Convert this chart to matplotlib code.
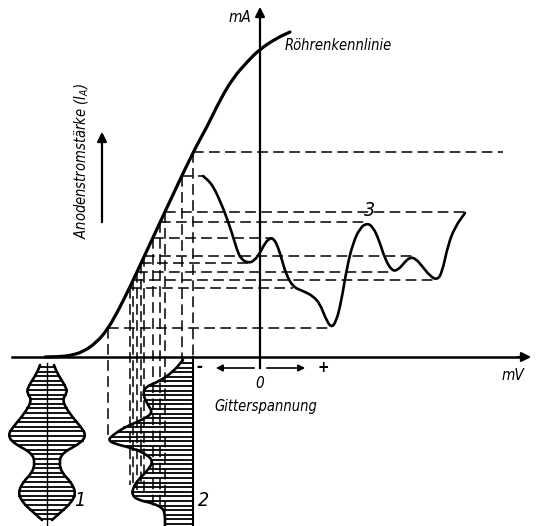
import matplotlib.pyplot as plt
import numpy as np
from matplotlib.path import Path
from matplotlib.patches import PathPatch

# tube characteristic (grid voltage u, anode current v), origin at the axes crossing
curve_u = [-215, -198, -190, -177, -163, -153, -143, -130, -117, -97, -67, -53, -40, -27, -13, 0, 17, 30]
curve_v = [0, 0.5, 1.5, 5, 15, 27, 44, 70, 98, 141, 205, 230, 257, 279, 295, 308, 319, 325]

# output current wave (3)
out_u = [-57, -50, -45, -40, -35, -28, -23, -19, -12, -6, 0, 5, 10, 14, 18, 22, 26, 33, 43, 53, 60,
         65, 71, 76, 81, 87, 93, 100, 107, 113, 119, 125, 132, 138, 144, 150, 156, 162, 170, 177,
         182, 188, 195, 205]
out_v = [181, 175, 167, 156, 144, 124, 107, 98, 94, 96, 104, 114, 119, 118, 110, 97, 83, 70, 66, 61, 53,
         40, 29, 35, 54, 90, 114, 129, 134, 130, 117, 98, 86, 87, 94, 100, 98, 91, 81, 77,
         84, 112, 130, 144]

# projection levels, where each dashed line ends on the right and how far it drops
levels = [205, 181, 145, 135, 119, 101, 94, 85, 77, 69, 29]
level_end = [243, -57, 205, 107, 13, 152, -12, 132, 177, 33, 70]
level_drop = [0, -5, -160, -150, -150, -140, -128, -133, -136, -128, -83]

# input grid voltage (2), left envelope, right edge
in2_v = [-3, -15, -25, -30, -38, -48, -56, -63, -70, -78, -83, -87, -91, -98, -105, -113,
         -123, -131, -138, -143, -146, -151, -158, -169]
in2_u = [-77, -87, -102, -115, -117, -112, -107, -118, -135, -147, -152, -145, -128, -112, -107, -112,
         -122, -127, -128, -122, -108, -97, -95, -95]
in2_edge = -67

# modulated signal (1), half width of envelope
in1_center = -213
in1_v = [-8, -16, -30, -36, -43, -56, -70, -78, -86, -96, -106, -116, -125, -136, -146, -155, -163]
in1_hw = [7, 10, 19, 20, 15, 22, 34, 39, 34, 15, 12, 15, 24, 29, 24, 14, 5]

plt.rcParams['font.family'] = ['DejaVu Sans']
plt.rcParams['font.stretch'] = 'condensed'
plt.rcParams['mathtext.fontset'] = 'dejavusans'


def smooth_line(ax, xs, ys, lw):
    """Draw a polyline as a smooth quadratic Bezier path through the midpoints."""
    pts = np.column_stack([xs, ys]).astype(float)
    verts = [pts[0], (pts[0] + pts[1]) / 2]
    codes = [Path.MOVETO, Path.LINETO]
    for i in range(1, len(pts) - 1):
        verts += [pts[i], (pts[i] + pts[i + 1]) / 2]
        codes += [Path.CURVE3, Path.CURVE3]
    verts.append(pts[-1])
    codes.append(Path.LINETO)
    ax.add_patch(PathPatch(Path(verts, codes), fill=False, lw=lw, color='black',
                           capstyle='round', joinstyle='round'))


fig = plt.figure(figsize=(5.37, 5.26), dpi=100)
ax = fig.add_axes([0, 0, 1, 1])
ax.set_xlim(-260, 277)
ax.set_ylim(-169, 357)
ax.axis('off')

dash = dict(color='black', lw=1.1, dashes=(7, 3.5))

# axes with arrows
ax.plot([-248, 265], [0, 0], color='black', lw=1.8)
ax.annotate('', xy=(274, 0), xytext=(255, 0),
            arrowprops=dict(arrowstyle='-|>', color='black', lw=1.6, mutation_scale=14))
ax.plot([0, 0], [-11, 340], color='black', lw=1.6)
ax.annotate('', xy=(0, 353), xytext=(0, 335),
            arrowprops=dict(arrowstyle='-|>', color='black', lw=1.6, mutation_scale=14))

# characteristic
smooth_line(ax, curve_u, curve_v, 2.3)

# projections
cu = np.array(curve_u)
cv = np.array(curve_v)
for lev, end, drop in zip(levels, level_end, level_drop):
    xc = np.interp(lev, cv, cu)
    ax.plot([xc, end], [lev, lev], **dash)
    ax.plot([xc, xc], [lev, drop], **dash)

# output wave
smooth_line(ax, out_u, out_v, 1.9)

# input wave 2
env_u = np.array(in2_u)
env_v = np.array(in2_v)
for v in np.arange(-6, -169, -4.6):
    u = np.interp(v, env_v[::-1], env_u[::-1])
    ax.plot([u, in2_edge], [v, v], color='black', lw=1.3)
smooth_line(ax, in2_u, in2_v, 1.9)
ax.plot([in2_edge, in2_edge], [0, -169], color='black', lw=1.5)

# input wave 1
c = in1_center
hw = np.array(in1_hw)
v1 = np.array(in1_v)
for v in np.arange(-10, -163, -4.6):
    h = np.interp(v, v1[::-1], hw[::-1])
    ax.plot([c - h, c + h], [v, v], color='black', lw=1.3)
smooth_line(ax, c - hw, in1_v, 1.9)
smooth_line(ax, c + hw, in1_v, 1.9)
ax.plot([c, c], [-6, -169], color='black', lw=1.0)

# grid voltage arrows
ax.annotate('', xy=(-47, -11), xytext=(-3, -11),
            arrowprops=dict(arrowstyle='-|>', color='black', lw=1.2, mutation_scale=10))
ax.annotate('', xy=(48, -11), xytext=(4, -11),
            arrowprops=dict(arrowstyle='-|>', color='black', lw=1.2, mutation_scale=10))

txt = dict(style='italic', color='black')
ax.text(-60, -10, '-', fontsize=12, ha='center', va='center', fontweight='bold', **txt)
ax.text(63, -11, '+', fontsize=11, ha='center', va='center', fontweight='bold', **txt)
ax.text(0, -26, '0', fontsize=11, ha='center', va='center', **txt)
ax.text(6, -50, 'Gitterspannung', fontsize=10.5, ha='center', va='center', **txt)
ax.text(253, -18, 'mV', fontsize=11, ha='center', va='center', **txt)
ax.text(-20, 339, 'mA', fontsize=11, ha='center', va='center', **txt)
ax.text(25, 311, 'Röhrenkennlinie', fontsize=10.5, ha='left', va='center', **txt)
ax.text(110, 147, '3', fontsize=14, ha='center', va='center', **txt)
ax.text(-180, -143, '1', fontsize=14, ha='center', va='center', **txt)
ax.text(-57, -143, '2', fontsize=14, ha='center', va='center', **txt)
ax.text(-178, 196, r'Anodenstromstärke ($I_A$)', fontsize=10.5, rotation=90,
        ha='center', va='center', **txt)
ax.annotate('', xy=(-158, 228), xytext=(-158, 132),
            arrowprops=dict(arrowstyle='-|>', color='black', lw=1.6, mutation_scale=14))

fig.savefig('out.png', dpi=100)
